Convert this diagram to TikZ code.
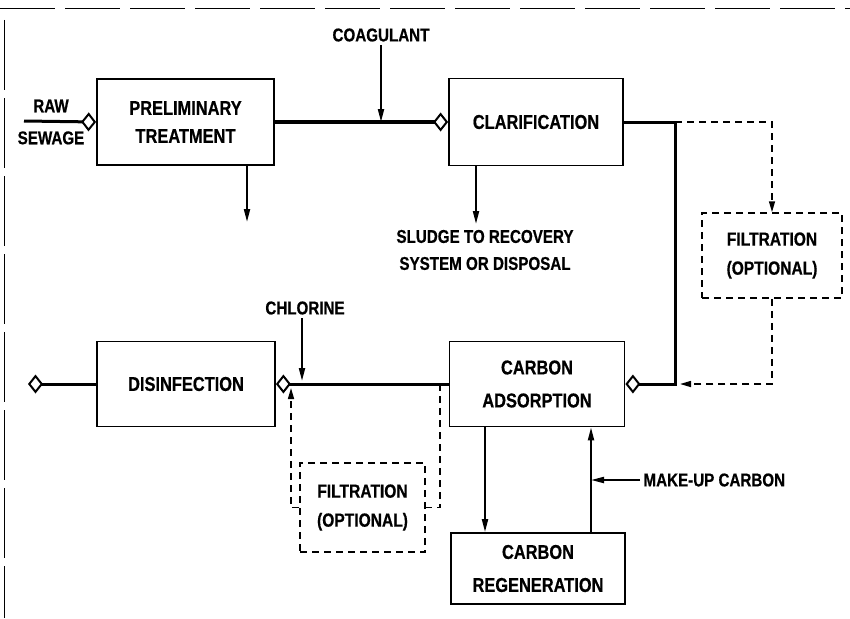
\documentclass[tikz,border=0pt]{standalone}
\usepackage{fontspec}
\setmainfont{Liberation Sans}[FakeStretch=0.82, BoldFeatures={FakeBold=0.6}]
\usetikzlibrary{arrows.meta}

\begin{document}
\begin{tikzpicture}[
    x=1pt, y=-1pt,
    % Define the style for the process units (plain boxes)
    unit/.style={draw, line width=1.8pt, align=center, inner sep=0pt,
                 font=\fontsize{20}{31}\selectfont\bfseries},
    % Optional units are dashed
    optunit/.style={unit, dashed, dash pattern=on 7pt off 5pt, line width=1.5pt,
                 font=\fontsize{19}{29}\selectfont\bfseries},
    % Free labels
    lbl/.style={align=center, font=\fontsize{18.5}{27}\selectfont\bfseries},
    % Main flow line, feed arrows and optional (dashed) lines
    flow/.style={line width=3pt},
    feed/.style={line width=2pt, -{Triangle[length=13pt,width=6pt]}},
    opt/.style={line width=1.5pt, dash pattern=on 7pt off 5pt},
    optfeed/.style={opt, -{Triangle[length=11pt,width=6pt]}},
    % Open diamond where a flow enters a unit
    inlet/.style={-{Diamond[open,length=15pt,width=19pt,line width=2pt]}}
]
    \useasboundingbox (0,0) rectangle (850,618);

    % --- Frame (scan edge) ---
    \draw[line width=0.8pt, dash pattern=on 55pt off 10pt] (0,8) -- (850,8);
    \draw[line width=0.8pt, dash pattern=on 70pt off 8pt] (4,20) -- (4,618);

    % --- Units ---
    \node[unit, minimum width=177pt, minimum height=86pt, font=\fontsize{20}{28}\selectfont\bfseries]
        (prelim) at (185.5,122) {PRELIMINARY\\TREATMENT};
    \node[unit, minimum width=174pt, minimum height=87pt] (clarif) at (536,122) {CLARIFICATION};
    \node[optunit, minimum width=140pt, minimum height=85pt] (filtA) at (772,255.5) {FILTRATION\\(OPTIONAL)};
    \node[unit, minimum width=175pt, minimum height=85pt, font=\fontsize{20}{33}\selectfont\bfseries]
        (carbads) at (537,384) {CARBON\\ADSORPTION};
    \node[unit, minimum width=174pt, minimum height=71pt, font=\fontsize{20}{33}\selectfont\bfseries]
        (carbreg) at (538,568.5) {CARBON\\REGENERATION};
    \node[unit, minimum width=178pt, minimum height=85pt] (disinf) at (186,384) {DISINFECTION};
    \node[optunit, minimum width=125pt, minimum height=89pt] (filtB) at (362.5,507.5) {FILTRATION\\(OPTIONAL)};

    % --- Labels ---
    \node[lbl, font=\fontsize{18.5}{32}\selectfont\bfseries] (raw) at (51,122) {RAW\\SEWAGE};
    \node[lbl] (coag) at (381,35) {COAGULANT};
    \node[lbl] (sludge) at (485,250) {SLUDGE TO RECOVERY\\SYSTEM OR DISPOSAL};
    \node[lbl] (chlor) at (305,308) {CHLORINE};
    \node[lbl, anchor=west] (makeup) at (640,480) {MAKE-UP CARBON};

    % --- Junctions and free ends ---
    \coordinate (rawin)  at (24,121);
    \coordinate (jtop)   at (675,122);
    \coordinate (jbot)   at (675,384);
    \coordinate (outlet) at (28,384);
    \coordinate (byin)   at (440,384);
    \coordinate (byout)  at (291,388);
    \coordinate (prelimout) at (247,222);
    \coordinate (sludgeout) at (476,224);

    % --- Main flow ---
    \draw[flow, inlet] (rawin) -- (prelim.west);
    \draw[flow, line width=3.5pt, inlet] (prelim.east) -- (clarif.west);
    \draw[flow, inlet] (clarif.east) -- (jtop) -- (jbot) -- (carbads.east);
    \draw[flow, inlet] (carbads.west) -- (disinf.east);
    \draw[flow, inlet] (disinf.west) -- (outlet);

    % --- Chemical feeds and sludge ---
    \draw[feed] (coag.south) -- (coag.south |- clarif.west);
    \draw[feed] (chlor.south -| 302,0) -- (302,381);
    \draw[feed] (prelimout |- prelim.south) -- (prelimout);
    \draw[feed] (sludgeout |- clarif.south) -- (sludgeout);

    % --- Optional filtration (dashed) ---
    \draw[optfeed] (jtop) -- (jtop -| filtA.north) -- (filtA.north);
    \draw[optfeed] (filtA.south) -- (filtA.south |- jbot) -- ([xshift=5pt]jbot);
    \draw[opt] (byin) -- (byin |- filtB.east) -- (filtB.east);
    \draw[optfeed] (filtB.west) -- (filtB.west -| byout) -- (byout);

    % --- Carbon loop ---
    \draw[feed] ([xshift=-52pt]carbads.south) -- ([xshift=-52pt]carbads.south |- carbreg.north);
    \draw[feed] ([xshift=53pt]carbreg.north) -- ([xshift=53pt]carbreg.north |- carbads.south);
    \draw[feed] (makeup.west) -- ++(-49,0);

\end{tikzpicture}
\end{document}
